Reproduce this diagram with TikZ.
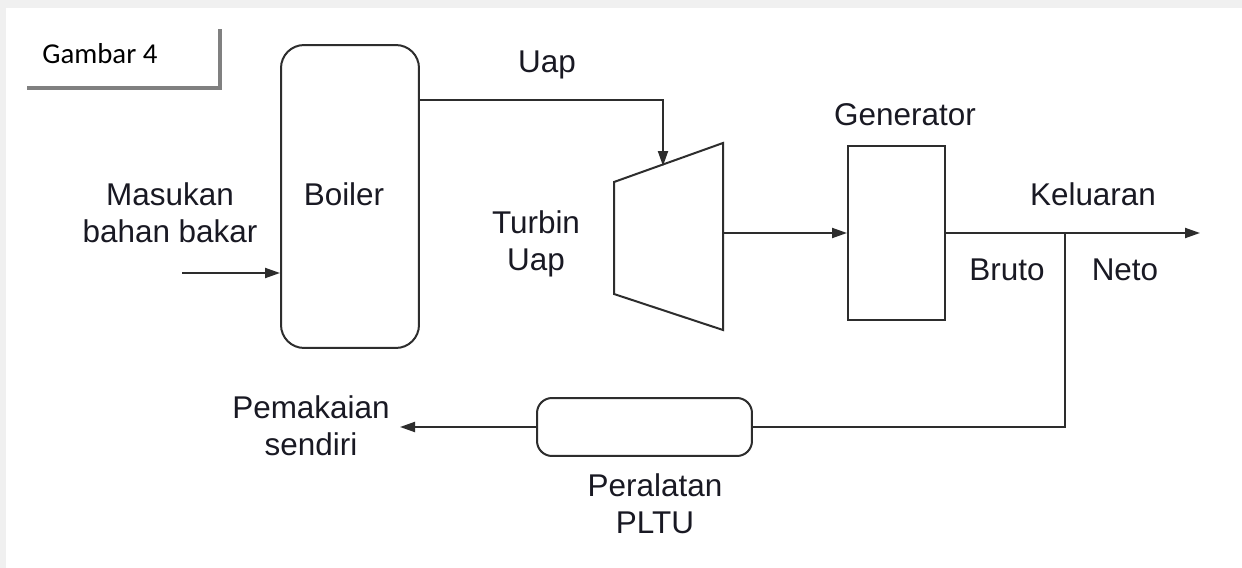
\documentclass[tikz,border=0pt]{standalone}
\usepackage{fontspec}
\setmainfont{Liberation Sans}
\newfontfamily\capfont{Carlito}
\usetikzlibrary{arrows.meta,positioning,calc}
\definecolor{lineC}{RGB}{45,45,45}
\definecolor{textC}{RGB}{25,25,35}
\definecolor{shadowC}{RGB}{128,128,128}
\definecolor{pageC}{RGB}{240,240,240}
\newcommand{\diagfont}{\fontsize{17.9}{21}\selectfont}

\begin{document}
\begin{tikzpicture}[x=0.02cm, y=-0.02cm,
  unit/.style={draw=lineC, line width=0.04cm, inner sep=0pt},
  flow/.style={draw=lineC, line width=0.04cm, -{Triangle[length=0.3cm,width=0.2cm]}},
  lbl/.style={font=\diagfont, text=textC, inner sep=0pt, align=center}]
% page
\useasboundingbox (0,0) rectangle (1242,568);
\fill[pageC] (0,0) rectangle (1242,568);
\fill[white] (6,8) rectangle (1242,568);

% caption tab
\node[font=\capfont\fontsize{16.4}{19}\selectfont, inner sep=0pt, anchor=base west] (gbr) at (42,63) {Gambar 4};
\draw[shadowC, line width=0.08cm] (27,88) -- (220,88) -- (220,29);

% units
\node[unit, rounded corners=0.46cm, minimum width=2.76cm, minimum height=6.06cm] (boiler) at (350,196.5) {};
\node[lbl, anchor=base] (boilerlbl) at (344,205) {Boiler};
\draw[lineC, line width=0.04cm] (614,182) coordinate (tbNW) -- (723,143) coordinate (tbNE)
  -- (723,330) coordinate (tbSE) -- (614,294) coordinate (tbSW) -- cycle;
\coordinate (turbtop) at (663,166);
\coordinate (turbout) at (723,233);
\node[unit, minimum width=1.94cm, minimum height=3.48cm] (gen) at (896.5,233) {};
\node[unit, rounded corners=0.3cm, minimum width=4.3cm, minimum height=1.16cm] (alat) at (644.5,427) {};

% labels
\node[lbl] (masukan) at (170,213) {Masukan\\bahan bakar};
\node[lbl, anchor=base] (uaplbl) at (547,72) {Uap};
\node[lbl] (turbin) at (536,243.5) {Turbin\\Uap};
\node[lbl, anchor=base] (genlbl) at (905,125) {Generator};
\node[lbl, anchor=base] (keluaran) at (1093,205) {Keluaran};
\node[lbl, anchor=base] (bruto) at (1007,280) {Bruto};
\node[lbl, anchor=base] (neto) at (1125,280) {Neto};
\node[lbl] (pemakaian) at (311,426) {Pemakaian\\sendiri};
\node[lbl] (alatlbl) at (655,504) {Peralatan\\PLTU};

% flows
\coordinate (fuel) at (182,273);
\coordinate (uapknee) at (663,100);
\coordinate (split) at (1065,233);
\coordinate (out) at (1200,233);
\coordinate (own) at (400,427);
\draw[flow] (fuel) -- (fuel -| boiler.west);
\draw[flow] (uapknee -| boiler.east) -- (uapknee) -- (turbtop);
\draw[flow] (turbout) -- (gen.west);
\draw[flow] (gen.east) -- (out);
\draw[lineC, line width=0.04cm] (split) |- (alat.east);
\draw[flow] (alat.west) -- (own);
\end{tikzpicture}
\end{document}
